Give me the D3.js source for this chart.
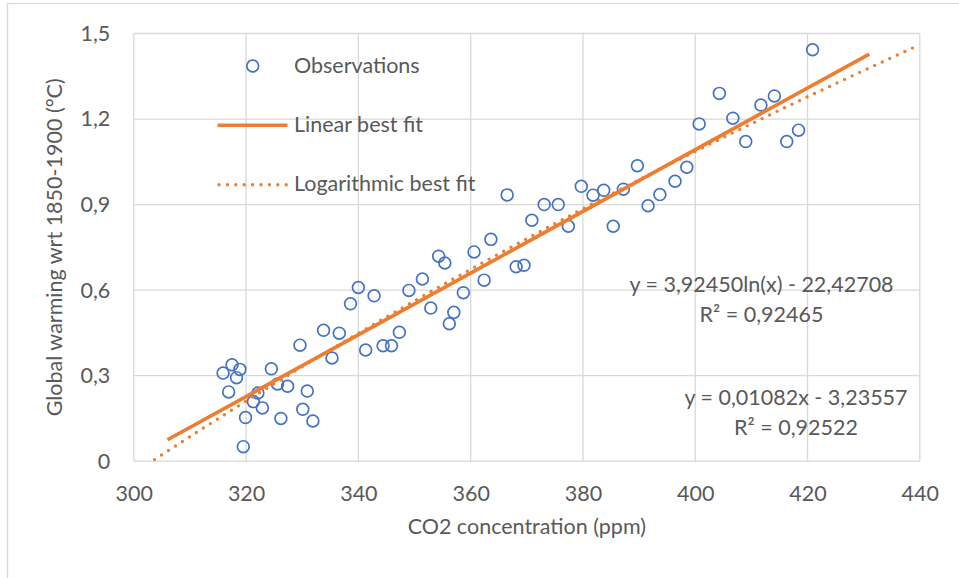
<!DOCTYPE html>
<html>
<head>
<meta charset="utf-8">
<script src="https://cdn.jsdelivr.net/npm/d3@7"></script>
<style>
  body { margin: 0; background: #fff; }
  text { font-family: Lato, "Open Sans", sans-serif; fill: #595959; }
</style>
</head>
<body>
<div class="chart"></div>
<script>
var width = 959, height = 578;
var plot = { left: 133.8, right: 919.8, top: 33.5, bottom: 461.2 };
var fontSize = "21.5px";

// observations: CO2 (ppm) and warming (°C)
var co2 = [315.9, 316.9, 317.5, 318.3, 318.9, 319.5, 319.9, 321.3, 322.1, 322.9,
           324.5, 325.6, 326.2, 327.4, 329.6, 330.1, 330.9, 331.9, 333.8, 335.3,
           336.6, 338.6, 340.0, 341.3, 342.8, 344.4, 345.9, 347.3, 349.0, 351.4,
           352.9, 354.3, 355.4, 356.2, 357.0, 358.7, 360.6, 362.4, 363.6, 366.5,
           368.1, 369.5, 370.9, 373.1, 375.6, 377.4, 379.7, 381.8, 383.7, 385.4,
           387.2, 389.7, 391.6, 393.7, 396.4, 398.5, 400.7, 404.3, 406.7, 409.0,
           411.7, 414.1, 416.3, 418.4, 420.9];
var warming = [0.309, 0.243, 0.338, 0.293, 0.322, 0.051, 0.153, 0.209, 0.239, 0.187,
               0.324, 0.271, 0.150, 0.263, 0.407, 0.182, 0.246, 0.141, 0.459, 0.362,
               0.449, 0.552, 0.609, 0.390, 0.580, 0.405, 0.405, 0.452, 0.599, 0.639,
               0.537, 0.719, 0.695, 0.482, 0.522, 0.591, 0.734, 0.635, 0.778, 0.934,
               0.682, 0.687, 0.845, 0.900, 0.900, 0.824, 0.964, 0.933, 0.950, 0.824,
               0.954, 1.036, 0.896, 0.935, 0.982, 1.031, 1.183, 1.290, 1.203, 1.121,
               1.249, 1.281, 1.121, 1.161, 1.443];

// trendline coefficients (from the equations on the chart)
var linearFit = { slope: 0.01082, intercept: -3.23557, from: 306, to: 431 };
var logFit = { coef: 3.92450, intercept: -22.42708, from: 300, to: 440 };

var xTicks = [300, 320, 340, 360, 380, 400, 420, 440];
var yTicks = [0, 0.3, 0.6, 0.9, 1.2, 1.5];
var yTickLabels = ["0", "0,3", "0,6", "0,9", "1,2", "1,5"];

var legendLabels = ["Observations", "Linear best fit", "Logarithmic best fit"];
var eqLog = ["y = 3,92450ln(x) - 22,42708", "R² = 0,92465"];
var eqLin = ["y = 0,01082x - 3,23557", "R² = 0,92522"];

var blue = "#4472C4", orange = "#ED7D31", grid = "#D9D9D9";

var svg = d3.select(".chart")
  .append("svg")
    .attr("width", width)
    .attr("height", height);

// chart frame
svg.append("rect")
  .attr("x", 7.5).attr("y", 3.5)
  .attr("width", width + 20).attr("height", height + 20)
  .attr("fill", "none").attr("stroke", grid).attr("stroke-width", 1.3);

var x_scale = d3.scaleLinear().domain([300, 440]).range([plot.left, plot.right]);
var y_scale = d3.scaleLinear().domain([0, 1.5]).range([plot.bottom, plot.top]);

// grid lines
svg.append("g").selectAll("line").data(xTicks).enter().append("line")
  .attr("x1", function(d){ return x_scale(d); }).attr("x2", function(d){ return x_scale(d); })
  .attr("y1", plot.top).attr("y2", plot.bottom)
  .attr("stroke", grid).attr("stroke-width", 1.3);
svg.append("g").selectAll("line").data(yTicks).enter().append("line")
  .attr("x1", plot.left).attr("x2", plot.right)
  .attr("y1", function(d){ return y_scale(d); }).attr("y2", function(d){ return y_scale(d); })
  .attr("stroke", grid).attr("stroke-width", 1.3);

// axes (labels only)
svg.append("g")
  .attr("transform", "translate(0," + plot.bottom + ")")
  .call(d3.axisBottom(x_scale).tickValues(xTicks).tickSize(0).tickPadding(24.4).tickFormat(d3.format("d")));
svg.append("g")
  .attr("transform", "translate(" + plot.left + ",0)")
  .call(d3.axisLeft(y_scale).tickValues(yTicks).tickSize(0).tickPadding(23.5)
    .tickFormat(function(d, i){ return yTickLabels[i]; }));
svg.selectAll(".domain").remove();
svg.selectAll(".tick text")
  .attr("fill", "#595959")
  .style("font-family", "Lato, sans-serif")
  .style("font-size", fontSize);

// axis titles
svg.append("text")
  .attr("x", (plot.left + plot.right) / 2).attr("y", 534)
  .attr("text-anchor", "middle").style("font-size", fontSize)
  .text("CO2 concentration (ppm)");
svg.append("text")
  .attr("transform", "translate(62," + (plot.top + plot.bottom) / 2 + ") rotate(-90)")
  .attr("text-anchor", "middle").style("font-size", fontSize)
  .text("Global warming wrt 1850-1900 (°C)");

// observations
svg.append("g").selectAll("circle").data(co2).enter().append("circle")
  .attr("cx", function(d){ return x_scale(d); })
  .attr("cy", function(d, i){ return y_scale(warming[i]); })
  .attr("r", 5.9)
  .attr("fill", "none").attr("stroke", blue).attr("stroke-width", 1.7);

// clip for trendlines
svg.append("clipPath").attr("id", "plotclip")
  .append("rect")
  .attr("x", plot.left).attr("y", plot.top)
  .attr("width", plot.right - plot.left).attr("height", plot.bottom - plot.top);

var fitLine = d3.line()
  .x(function(d){ return x_scale(d[0]); })
  .y(function(d){ return y_scale(d[1]); });

var logPts = d3.range(logFit.from, logFit.to + 0.01, 1).map(function(x){
  return [x, logFit.coef * Math.log(x) + logFit.intercept];
});
svg.append("path")
  .attr("clip-path", "url(#plotclip)")
  .attr("d", fitLine(logPts))
  .attr("fill", "none").attr("stroke", orange).attr("stroke-width", 3.4)
  .attr("stroke-linecap", "round").attr("stroke-dasharray", "0,8.3");

var linPts = [linearFit.from, linearFit.to].map(function(x){
  return [x, linearFit.slope * x + linearFit.intercept];
});
svg.append("path")
  .attr("d", fitLine(linPts))
  .attr("fill", "none").attr("stroke", orange).attr("stroke-width", 3.6);

// legend
var legend = svg.append("g");
legend.append("circle")
  .attr("cx", 252.7).attr("cy", 66).attr("r", 5.9)
  .attr("fill", "none").attr("stroke", blue).attr("stroke-width", 1.7);
legend.append("line")
  .attr("x1", 217.5).attr("x2", 287.5).attr("y1", 125.3).attr("y2", 125.3)
  .attr("stroke", orange).attr("stroke-width", 3.6);
legend.append("line")
  .attr("x1", 219).attr("x2", 288).attr("y1", 184.7).attr("y2", 184.7)
  .attr("stroke", orange).attr("stroke-width", 3.4)
  .attr("stroke-linecap", "round").attr("stroke-dasharray", "0,8.4");
legend.selectAll("text.lg").data(legendLabels).enter().append("text")
  .attr("class", "lg")
  .attr("x", 294)
  .attr("y", function(d, i){ return [73.3, 131.7, 190.7][i]; })
  .style("font-size", fontSize)
  .text(function(d){ return d; });

// equations
function equation(lines, cx, y0) {
  svg.append("g").selectAll("text").data(lines).enter().append("text")
    .attr("x", cx)
    .attr("y", function(d, i){ return y0 + i * 30; })
    .attr("text-anchor", "middle")
    .style("font-size", fontSize)
    .text(function(d){ return d; });
}
equation(eqLog, 761.5, 291.7);
equation(eqLin, 796, 404.5);
</script>
</body>
</html>
